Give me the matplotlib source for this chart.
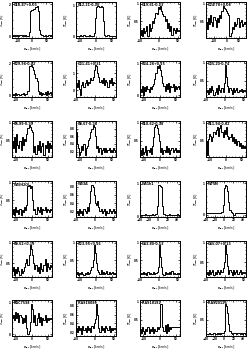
import matplotlib
matplotlib.use("Agg")
import matplotlib.pyplot as plt
import numpy as np
from matplotlib.ticker import MaxNLocator, FormatStrFormatter

# source names (top-left of each panel)
names = ["G10.47+0.03", "G12.21-0.10", "G19.61-0.23", "G24.78+0.08",
         "G29.96-0.02", "G31.41+0.31", "G34.26+0.15", "G35.20-0.74",
         "G5.89-0.39", "G8.67-0.36", "G10.62-0.38", "G11.94-0.62",
         "W3(H2O)", "W33A", "W51e1", "W75N",
         "G9.62+0.19", "G23.95+0.16", "G43.80-0.13", "G45.07+0.13",
         "NGC7538", "IRAS18089", "IRAS18182", "IRAS20126"]

# velocity grid of each spectrum: first channel and channel width (km/s)
v_start = [-70, -60, -50, -80, -60, -50, -60, -50,
           -60, -60, -60, -60, -60, -50, -40, -40,
           -60, -60, -50, -50, -60, -50, -60, -40]
v_step = [4, 3.5, 3, 4.5, 3.5, 3, 3.5, 3,
          3.5, 3.5, 3.5, 3.5, 3.5, 3, 2.5, 2.5,
          3.5, 3.5, 3, 3, 3.5, 3, 3.5, 2.5]

spectra = [
    [0.05,0.1,0.0,0.08,0.03,0.12,0.02,0.06,0.1,0.0,0.07,0.04,0.09,0.02,0.05,0.3,1.55,1.62,1.65,1.7,1.72,1.85,1.9,1.6,0.4,0.15,0.08,0.12,0.03,0.1,0.05,0.0,0.08,0.06,0.04,0.07],
    [0.02,0.0,0.03,0.01,0.04,0.0,0.02,0.05,0.01,0.03,0.0,0.02,0.04,0.01,0.03,0.02,0.1,0.6,0.95,0.98,1.0,0.97,0.99,0.95,0.5,0.06,0.03,0.02,0.04,0.0,0.03,0.01,0.02,0.03,0.01,0.02],
    [0.1,0.25,0.05,0.3,0.15,0.2,0.35,0.05,0.4,0.2,0.3,0.5,0.45,0.6,0.75,0.7,0.9,0.85,0.95,0.8,0.7,0.65,0.5,0.55,0.3,0.45,0.2,0.35,0.1,0.3,0.25,0.15,0.3,0.2,0.25,0.2],
    [0.5,0.3,0.6,0.45,0.7,0.5,0.4,0.65,0.55,0.35,0.6,0.5,0.7,0.6,0.8,0.95,0.9,0.85,0.8,0.75,0.7,0.1,0.2,0.35,0.3,0.5,0.4,0.45,0.6,0.35,0.5,0.55,0.4,0.45,0.5,0.45],
    [0.05,0.1,0.0,0.15,0.05,0.08,0.12,0.03,0.1,0.06,0.14,0.05,0.1,0.08,0.3,1.8,1.85,1.9,1.75,1.6,1.3,1.1,0.9,0.3,0.1,0.2,0.05,0.15,0.1,0.2,0.05,0.25,0.1,0.15,0.2,0.1],
    [0.4,0.2,0.6,0.1,-0.3,0.3,0.5,0.2,0.4,0.6,0.3,0.5,0.45,0.7,0.6,0.8,1.2,1.5,1.4,1.0,0.8,0.5,0.6,0.4,0.7,0.3,0.6,0.5,0.2,0.6,0.4,0.7,0.3,0.5,0.45,0.4],
    [0.2,0.1,0.3,0.0,0.25,0.15,0.3,0.2,0.1,0.25,0.2,0.3,0.35,0.5,0.7,0.9,0.85,0.95,0.8,0.6,0.4,0.3,0.15,0.35,0.2,0.4,0.1,0.3,0.25,0.35,0.15,0.3,0.2,0.25,0.3,0.2],
    [0.2,0.25,0.15,0.3,0.2,0.35,0.25,0.1,0.2,0.3,0.15,0.4,0.25,0.2,0.3,0.2,0.45,0.95,0.6,0.35,0.2,0.3,0.25,0.15,0.3,0.2,0.25,0.3,0.2,0.25,0.22,0.28,0.2,0.25,0.22,0.25],
    [0.5,0.3,0.6,0.2,0.7,0.4,0.3,0.5,0.25,0.6,0.4,0.55,0.5,0.7,0.85,0.95,0.9,0.8,0.75,0.2,0.35,0.15,0.4,0.25,0.5,0.2,0.35,0.45,0.1,0.4,0.3,0.5,0.2,0.45,0.3,0.4],
    [0.7,0.4,0.3,0.1,0.2,0.35,0.25,0.4,0.1,0.3,0.35,0.5,0.55,0.7,0.8,0.9,0.85,0.6,0.3,0.35,0.2,0.3,0.15,0.25,0.3,0.2,0.3,0.2,0.25,0.3,0.2,0.25,0.2,0.3,0.25,0.2],
    [0.25,0.1,0.3,0.15,0.2,0.35,0.1,0.25,0.2,0.3,0.15,0.35,0.6,0.9,0.95,0.85,0.7,0.5,0.2,0.3,0.15,0.25,0.2,0.35,0.2,0.3,0.15,0.25,0.3,0.2,0.25,0.3,0.2,0.25,0.2,0.25],
    [0.5,0.1,0.55,0.7,0.65,0.5,0.6,0.75,0.7,0.8,0.9,0.65,0.85,0.95,0.75,0.6,0.8,0.7,0.9,0.65,0.55,0.6,0.7,0.5,0.6,0.45,0.55,0.4,0.5,0.35,0.45,0.3,0.4,0.3,0.35,0.3],
    [0.1,0.25,0.05,0.3,0.15,0.2,0.1,0.25,0.05,0.2,0.15,0.3,0.2,0.35,0.9,0.95,0.85,0.9,0.5,0.2,0.25,0.1,0.3,0.2,0.15,0.3,0.1,0.25,0.2,0.3,0.15,0.25,0.2,0.15,0.25,0.2],
    [0.15,0.2,0.1,0.25,0.15,0.2,0.1,0.25,0.2,0.15,0.3,0.2,0.4,0.7,0.85,0.8,0.6,0.4,0.35,0.45,0.3,0.2,0.25,0.15,0.2,0.25,0.1,0.2,0.15,0.25,0.2,0.15,0.2,0.25,0.15,0.2],
    [0.03,0.02,0.04,0.02,0.03,0.05,0.02,0.03,0.04,0.02,0.03,0.05,0.03,0.04,0.06,0.3,0.95,0.97,0.93,0.9,0.3,0.05,0.03,0.04,0.02,0.03,0.05,0.02,0.04,0.03,0.02,0.04,0.03,0.05,0.03,0.04],
    [0.05,0.04,0.05,0.06,0.04,0.05,0.05,0.06,0.04,0.05,0.06,0.05,0.04,0.06,0.08,0.3,0.85,0.95,0.9,0.75,0.4,0.15,0.08,0.05,0.0,-0.03,0.04,0.05,0.06,0.05,0.04,0.06,0.05,0.04,0.05,0.05],
    [0.3,0.4,0.2,0.35,0.25,0.4,0.3,0.2,0.35,0.25,0.3,0.4,0.5,0.6,0.45,0.7,0.95,0.85,0.7,0.5,0.35,0.45,0.3,0.4,0.25,0.5,0.35,0.3,0.45,0.6,0.3,0.5,0.4,0.35,0.45,0.4],
    [0.1,0.15,0.05,0.12,0.08,0.15,0.1,0.05,0.12,0.1,0.15,0.08,0.12,0.2,0.3,0.5,0.95,0.7,0.4,0.2,0.15,0.1,0.2,0.08,0.15,0.1,0.12,0.18,0.1,0.15,0.08,0.12,0.15,0.1,0.12,0.1],
    [0.1,0.12,0.08,0.15,0.1,0.12,0.05,0.15,0.1,0.12,0.08,0.1,0.15,0.1,0.12,0.15,0.3,0.95,0.6,0.3,0.1,0.05,0.15,0.1,0.12,0.08,0.15,0.1,0.18,0.1,0.12,0.08,0.1,0.12,0.1,0.12],
    [0.2,0.25,0.15,0.3,0.2,0.25,0.3,0.15,0.25,0.2,0.3,0.25,0.2,0.3,0.25,0.35,0.5,0.95,0.7,0.4,0.2,0.3,0.25,0.15,0.3,0.2,0.25,0.3,0.2,0.25,0.3,0.2,0.25,0.22,0.25,0.22],
    [0.5,0.6,0.45,0.7,0.5,0.65,0.4,0.6,0.55,0.35,0.5,0.4,0.6,0.2,0.0,0.1,0.4,0.95,0.8,0.4,0.6,0.3,0.5,0.65,0.4,0.55,0.3,0.5,0.45,0.6,0.4,0.5,0.45,0.5,0.48,0.5],
    [0.3,0.2,0.35,0.25,0.3,0.15,0.35,0.25,0.3,0.2,0.35,0.25,0.3,0.2,0.35,0.3,0.4,0.5,0.85,0.6,0.3,0.2,0.35,0.25,0.3,0.2,0.35,0.3,0.25,0.35,0.2,0.3,0.25,0.3,0.28,0.3],
    [0.25,0.15,0.3,0.2,0.1,0.25,0.2,0.3,0.15,0.25,0.2,0.3,0.15,0.25,0.2,0.3,0.25,0.3,0.95,0.93,0.3,0.2,0.35,0.15,0.4,0.2,0.3,0.25,0.3,0.3,0.3,0.3,0.3,0.3,0.3,0.3],
    [0.1,0.12,0.1,0.13,0.11,0.12,0.1,0.14,0.12,0.11,0.13,0.12,0.14,0.12,0.15,0.13,0.2,0.95,0.9,0.7,0.4,0.2,0.15,0.12,0.14,0.13,0.15,0.12,0.13,0.14,0.12,0.13,0.12,0.14,0.13,0.12],
]

W, H = 253, 352
fig = plt.figure(figsize=(W/100, H/100), dpi=100)

col_left = [12, 76, 140, 206]   # pixel positions of the panel boxes
row_top = [2, 61, 121, 181, 241, 300]
pw, ph = 40, 36

plt.rcParams['font.weight'] = 'bold'
fs = 2.3

for k in range(24):
    r, c = divmod(k, 4)
    ax = fig.add_axes([col_left[c]/W, (H - row_top[r] - ph)/H, pw/W, ph/H])
    y = np.array(spectra[k])
    v = v_start[k] + v_step[k]*np.arange(len(y))
    ax.plot(v, y, color='black', lw=0.7, drawstyle='steps-mid')
    ax.set_xlim(v[0], v[-1])
    lo, hi = y.min(), y.max()
    ax.set_ylim(lo - 0.05*(hi-lo), hi + 0.12*(hi-lo))
    ax.text(0.04, 0.96, names[k], transform=ax.transAxes, fontsize=fs,
            va='top', ha='left', fontweight='bold')
    ax.tick_params(direction='in', top=True, right=True, labelsize=2.0,
                   length=1.5, width=0.5, pad=0.8)
    ax.minorticks_on()
    ax.tick_params(which='minor', direction='in', top=True, right=True,
                   length=0.8, width=0.4)
    ax.yaxis.set_major_locator(MaxNLocator(nbins=2, steps=[1, 2, 5, 10]))
    ax.yaxis.set_major_formatter(FormatStrFormatter('%g'))
    ax.xaxis.set_major_locator(MaxNLocator(nbins=3, steps=[1, 2, 5, 10]))
    for s in ax.spines.values():
        s.set_linewidth(0.7)
    ax.set_xlabel(r'$v_{\rm lsr}$ [km/s]', fontsize=fs, labelpad=2.0)
    ax.set_ylabel(r'$T_{\rm mb}$ [K]', fontsize=fs)
    ax.yaxis.set_label_coords(-0.14, 0.5)

fig.savefig('out.png', dpi=100)
